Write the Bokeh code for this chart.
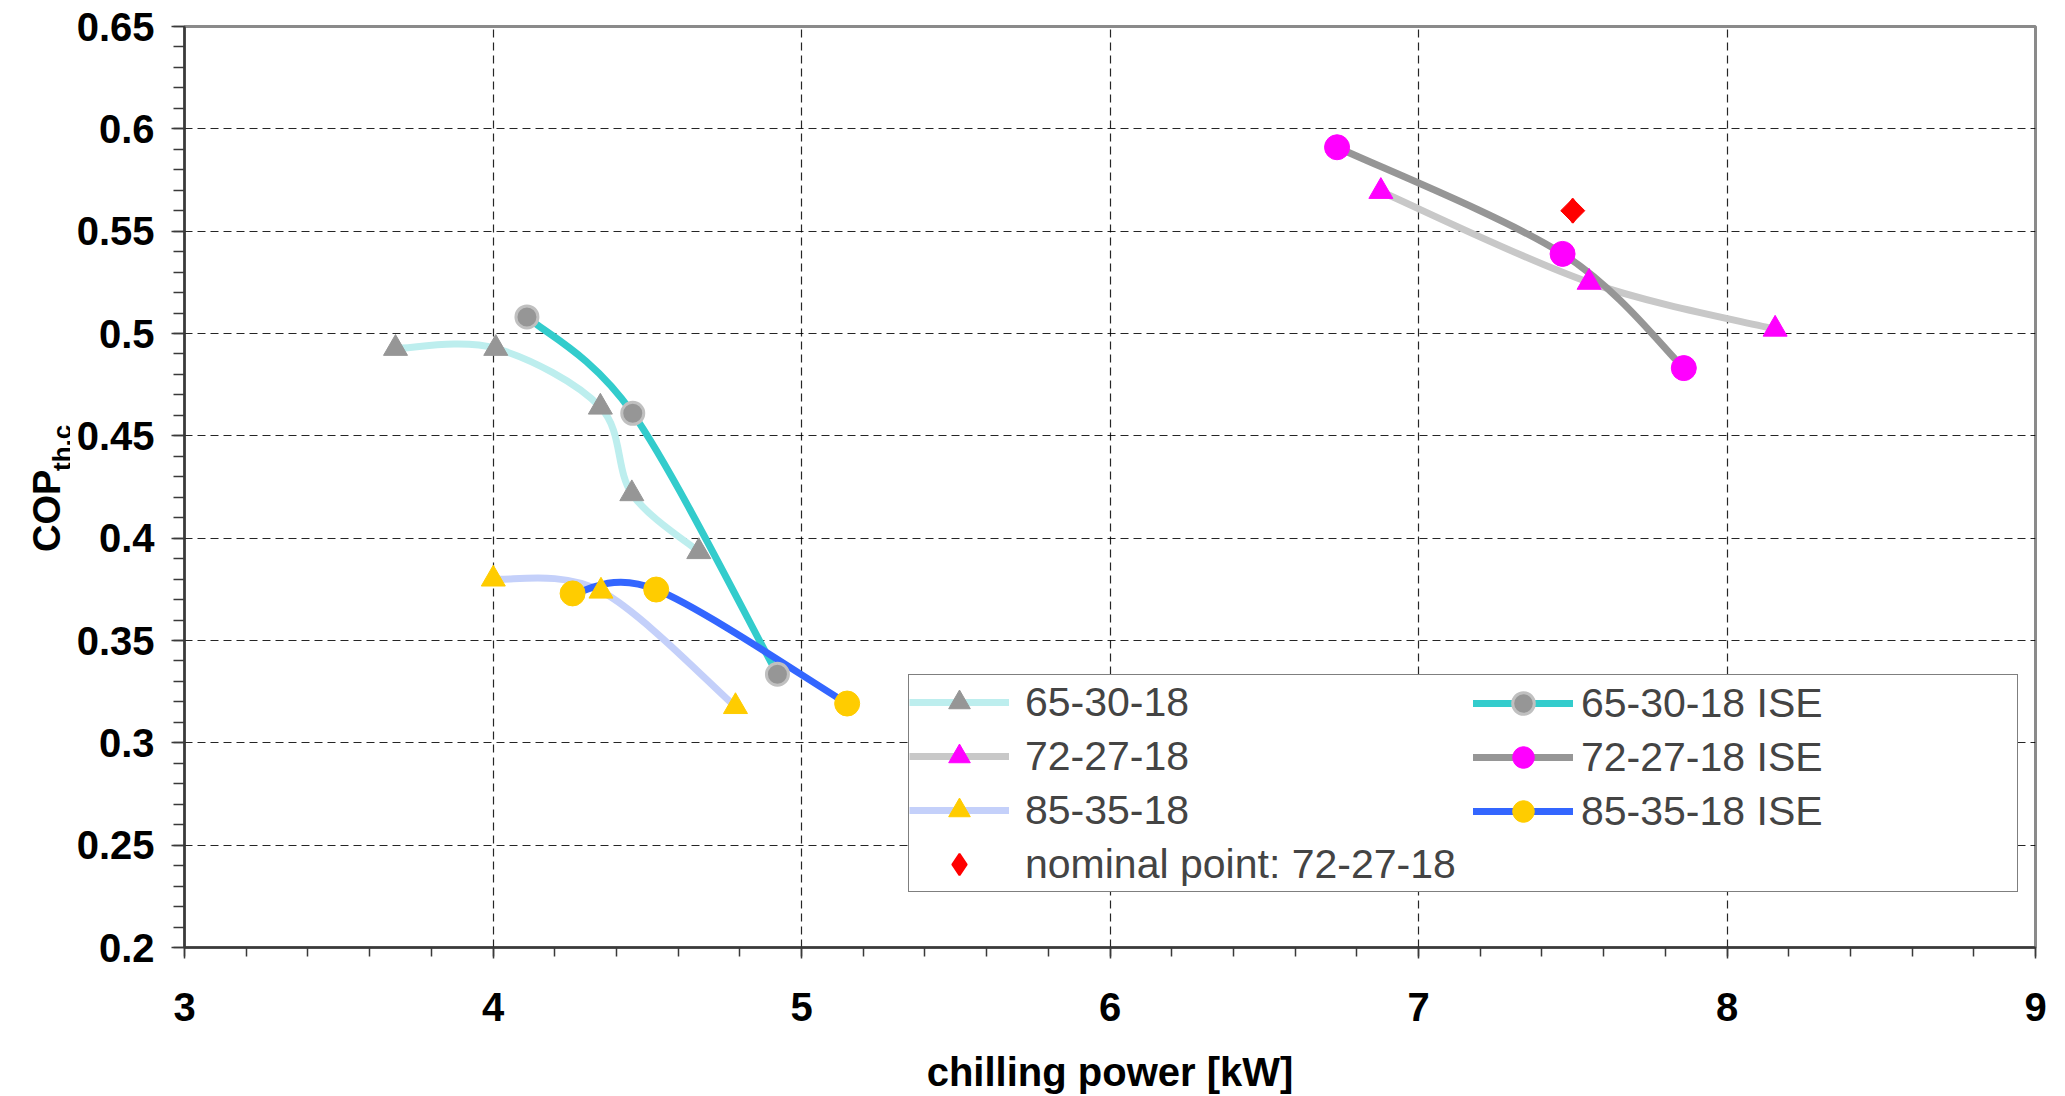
import numpy as np
from bokeh.plotting import figure
from bokeh.layouts import row
from bokeh.models import (FixedTicker, NumeralTickFormatter, Legend, LegendItem, Range1d, Label)
from bokeh.embed import file_html
from bokeh.resources import INLINE

# ---------------- data ----------------
x_ticks = [3, 4, 5, 6, 7, 8, 9]
y_ticks = [0.2, 0.25, 0.3, 0.35, 0.4, 0.45, 0.5, 0.55, 0.6, 0.65]

s65_x = [3.684, 4.009, 4.348, 4.450, 4.667]
s65_y = [0.4927, 0.4927, 0.4640, 0.4217, 0.3934]

s72_x = [6.878, 7.553, 8.156]
s72_y = [0.5694, 0.5250, 0.5021]

s85_x = [4.001, 4.350, 4.786]
s85_y = [0.3800, 0.3741, 0.3177]

ise65_x = [4.110, 4.453, 4.922]
ise65_y = [0.5081, 0.4610, 0.3335]

ise72_x = [6.736, 7.467, 7.860]
ise72_y = [0.5910, 0.5389, 0.4831]

ise85_x = [4.258, 4.529, 5.148]
ise85_y = [0.3730, 0.3749, 0.3192]

nominal_x = [7.5]
nominal_y = [0.56]

labels = ["65-30-18", "72-27-18", "85-35-18",
          "65-30-18 ISE", "72-27-18 ISE", "85-35-18 ISE",
          "nominal point: 72-27-18"]

FONT = "Liberation Sans"
W, H = 2065, 1096
TITLE_W = 70          # width of the strip holding the rotated y-axis title
B_TOP, B_BOTTOM = 26, 148


def smooth(xs, ys):
    """Catmull-Rom spline through the points, expressed as cubic Bezier segments."""
    px = [xs[0]] + list(xs) + [xs[-1]]
    py = [ys[0]] + list(ys) + [ys[-1]]
    d = dict(x0=[], y0=[], x1=[], y1=[], cx0=[], cy0=[], cx1=[], cy1=[])
    for i in range(len(xs) - 1):
        x0, y0 = px[i], py[i]
        x1, y1 = px[i + 1], py[i + 1]
        x2, y2 = px[i + 2], py[i + 2]
        x3, y3 = px[i + 3], py[i + 3]
        d["x0"].append(x1); d["y0"].append(y1)
        d["x1"].append(x2); d["y1"].append(y2)
        d["cx0"].append(x1 + (x2 - x0) / 6.0); d["cy0"].append(y1 + (y2 - y0) / 6.0)
        d["cx1"].append(x2 - (x3 - x1) / 6.0); d["cy1"].append(y2 - (y3 - y1) / 6.0)
    return d


p = figure(width=W - TITLE_W, height=H, x_range=Range1d(3, 9), y_range=Range1d(0.2, 0.65),
           output_backend="svg", toolbar_location=None,
           min_border_left=184 - TITLE_W, min_border_right=30,
           min_border_top=B_TOP, min_border_bottom=B_BOTTOM)
p.background_fill_color = "white"
p.border_fill_color = "white"
p.outline_line_color = "#8a8a8a"
p.outline_line_width = 3

# axes
xax = p.xaxis[0]
yax = p.yaxis[0]
xax.ticker = FixedTicker(ticks=x_ticks,
                         minor_ticks=[round(v, 2) for v in np.arange(3, 9.0001, 0.2)])
yax.ticker = FixedTicker(ticks=y_ticks,
                         minor_ticks=[round(v, 3) for v in np.arange(0.2, 0.6501, 0.01)])
yax.formatter = NumeralTickFormatter(format="0.[00]")
for ax in (xax, yax):
    ax.major_label_text_font = FONT
    ax.major_label_text_font_style = "bold"
    ax.major_label_text_font_size = "40px"
    ax.major_label_text_color = "black"
    ax.axis_line_color = "#3a3a3a"
    ax.axis_line_width = 2.5
    ax.major_tick_line_color = "#3a3a3a"
    ax.minor_tick_line_color = "#3a3a3a"
    ax.major_tick_line_width = 1.5
    ax.minor_tick_line_width = 1.5
    ax.major_tick_in = 0
    ax.minor_tick_in = 0
xax.major_tick_out = 11
xax.minor_tick_out = 9
yax.major_tick_out = 13
yax.minor_tick_out = 11
xax.major_label_standoff = 34
yax.major_label_standoff = 17
xax.axis_label = "chilling power [kW]"
xax.axis_label_text_font = FONT
xax.axis_label_text_font_style = "bold"
xax.axis_label_text_font_size = "40px"
xax.axis_label_text_color = "black"
xax.axis_label_standoff = 26

for g in (p.xgrid[0], p.ygrid[0]):
    g.grid_line_color = "black"
    g.grid_line_width = 1.2
    g.grid_line_dash = "8 5"
    g.grid_line_alpha = 0.85

# lines (smoothed, Excel style)
LW = 7
r_l65 = p.bezier(line_color="#bdeeee", line_width=LW, **smooth(s65_x, s65_y))
r_l72 = p.bezier(line_color="#c8c8c8", line_width=LW, **smooth(s72_x, s72_y))
r_l85 = p.bezier(line_color="#c4d0fa", line_width=LW, **smooth(s85_x, s85_y))
r_li65 = p.bezier(line_color="#33cccc", line_width=LW, line_cap="round", **smooth(ise65_x, ise65_y))
r_li72 = p.bezier(line_color="#969696", line_width=LW, line_cap="round", **smooth(ise72_x, ise72_y))
r_li85 = p.bezier(line_color="#3366ff", line_width=LW, line_cap="round", **smooth(ise85_x, ise85_y))

# markers
r_m65 = p.scatter(s65_x, s65_y, marker="triangle", size=24, fill_color="#969696", line_color="#969696")
r_m72 = p.scatter(s72_x, s72_y, marker="triangle", size=24, fill_color="#ff00ff", line_color="#ff00ff")
r_m85 = p.scatter(s85_x, s85_y, marker="triangle", size=24, fill_color="#ffcc00", line_color="#ffcc00")
r_mi65 = p.scatter(ise65_x, ise65_y, marker="circle", size=22, fill_color="#969696",
                   line_color="#c0c0c0", line_width=3)
r_mi72 = p.scatter(ise72_x, ise72_y, marker="circle", size=25, fill_color="#ff00ff", line_color="#ff00ff")
r_mi85 = p.scatter(ise85_x, ise85_y, marker="circle", size=25, fill_color="#ffcc00", line_color="#ffcc00")
# nominal point: wide diamond (rotated square) plus a diamond glyph used by the legend
r_nom = p.scatter(nominal_x, nominal_y, marker="square", angle=np.pi / 4, size=17,
                  fill_color="#ff0000", line_color="#ff0000")
r_nom_d = p.scatter(nominal_x, nominal_y, marker="diamond", size=24,
                    fill_color="#ff0000", line_color="#ff0000", line_width=2)

# legends: first column carries the frame, second column is overlaid inside it
common = dict(label_text_font=FONT, label_text_font_size="41px", glyph_width=100,
              glyph_height=54, label_height=44, spacing=0, padding=0, margin=0,
              orientation="vertical")
leg1 = Legend(items=[LegendItem(label=labels[0], renderers=[r_l65, r_m65]),
                     LegendItem(label=labels[1], renderers=[r_l72, r_m72]),
                     LegendItem(label=labels[2], renderers=[r_l85, r_m85]),
                     LegendItem(label=labels[6], renderers=[r_nom_d])],
              location=(724, 55), label_standoff=16, label_width=992,
              border_line_color="black", border_line_width=1.5,
              background_fill_color="white", background_fill_alpha=1.0, **common)
leg2 = Legend(items=[LegendItem(label=labels[3], renderers=[r_li65, r_mi65]),
                     LegendItem(label=labels[4], renderers=[r_li72, r_mi72]),
                     LegendItem(label=labels[5], renderers=[r_li85, r_mi85])],
              location=(1289, 109), label_standoff=8,
              border_line_alpha=0, background_fill_alpha=0, **common)
p.add_layout(leg1, "center")
p.add_layout(leg2, "center")

# rotated y-axis title "COP" with subscript "th,c", in its own pixel-scaled strip
# (frame spans the same rows as the main frame; y_range maps 1:1 to screen pixels)
t = figure(width=TITLE_W, height=H, x_range=Range1d(0, TITLE_W),
           y_range=Range1d(B_BOTTOM, H - B_TOP),
           output_backend="svg", toolbar_location=None,
           min_border_left=0, min_border_right=0,
           min_border_top=B_TOP, min_border_bottom=B_BOTTOM,
           x_axis_location=None, y_axis_location=None)
t.outline_line_color = None
t.background_fill_color = "white"
t.border_fill_color = "white"
for g in t.grid:
    g.visible = False
t.add_layout(Label(x=46.5, y=H - 552, text="COP", angle=np.pi / 2, text_align="left",
                   text_baseline="alphabetic", text_font=FONT, text_font_style="bold",
                   text_font_size="38px", text_color="black"))
t.add_layout(Label(x=61, y=H - 471, text="th,c", angle=np.pi / 2, text_align="left",
                   text_baseline="alphabetic", text_font=FONT, text_font_style="bold",
                   text_font_size="26px", text_color="black"))

layout = row(t, p, spacing=0)
open("out.html", "w").write(file_html(layout, INLINE))
